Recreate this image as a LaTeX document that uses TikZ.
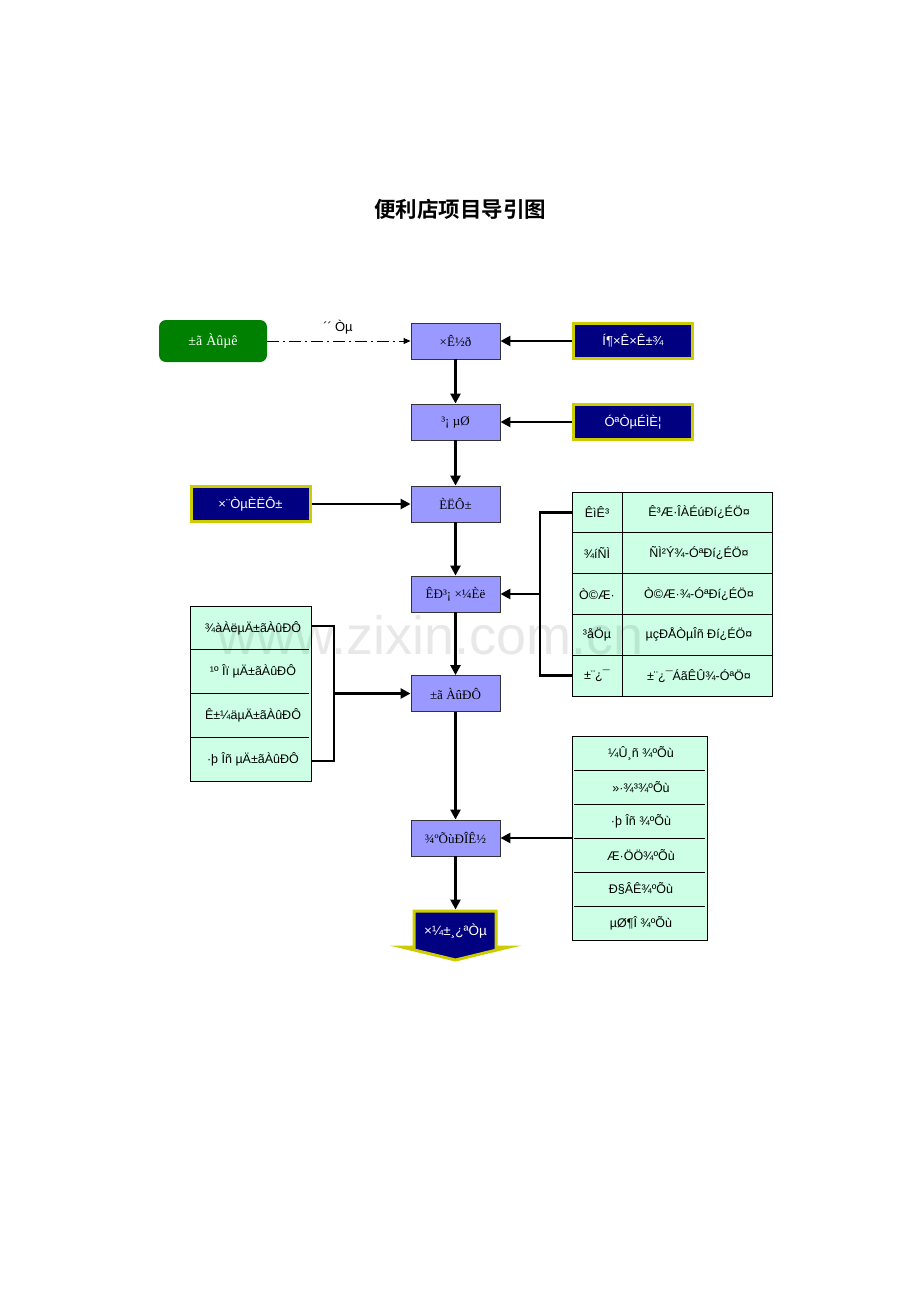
\documentclass[tikz,border=0pt]{standalone}
\usepackage{fontspec}
\setmainfont{Liberation Serif}
\newfontfamily\arialf{Liberation Sans}
\newfontfamily\cjk{Noto Sans CJK SC}[BoldFont={Noto Sans CJK SC Bold}]
\usetikzlibrary{arrows.meta}
\definecolor{boxblue}{HTML}{9999FF}
\definecolor{navyc}{HTML}{000080}
\definecolor{yel}{HTML}{CCCC00}
\definecolor{mint}{HTML}{CCFFE6}
\definecolor{greenc}{HTML}{008000}
\definecolor{edgec}{HTML}{333333}
\tikzset{
  bluebox/.style={draw=edgec, line width=0.9pt, fill=boxblue, minimum width=89pt, minimum height=36pt, inner sep=0pt, font=\fontsize{13}{15}\selectfont},
  navybox/.style={draw=yel, line width=3pt, fill=navyc, text=white, minimum width=119pt, minimum height=35pt, inner sep=0pt, font=\arialf\fontsize{13}{15}\selectfont},
  greenbox/.style={fill=greenc, rounded corners=7pt, text=white, minimum width=108pt, minimum height=42pt, inner sep=0pt, font=\fontsize{14}{16}\selectfont},
  cell/.style={inner sep=0pt, font=\arialf\fontsize{12.5}{15}\selectfont},
  conn/.style={line width=2.8pt, -{Triangle[length=10pt,width=10pt]}},
  plain/.style={line width=2.8pt},
  tframe/.style={draw=black, line width=0.8pt, fill=mint},
  tline/.style={draw=black, line width=0.8pt},
}
\begin{document}
\begin{tikzpicture}[x=1pt,y=-1pt]
\useasboundingbox[fill=white] (0,0) rectangle (920,1302);

% title
\node[font=\cjk\bfseries\fontsize{21.5}{24}\selectfont] (title) at (460,209) {便利店项目导引图};

% main column
\node[bluebox] (zj) at (455.5,341) {×Ê½ð};
\node[bluebox] (cd) at (455.5,422) {³¡ µØ};
\node[bluebox] (ry) at (455.5,504) {ÈËÔ±};
\node[bluebox] (sc) at (455.5,594) {ÊÐ³¡ ×¼Èë};
\node[bluebox] (bl) at (455.5,693.5) {±ã ÀûÐÔ};
\node[bluebox] (jz) at (455.5,838) {¾ºÕùÐÎÊ½};

% final arrow shape
\draw[draw=yel, line width=3pt, fill=navyc, line join=miter]
  (414,911) -- (496,911) -- (496,947) -- (509,947) -- (455.5,960) -- (402,947) -- (414,947) -- cycle;
\node[text=white, font=\arialf\fontsize{13.5}{15}\selectfont, inner sep=0pt] (ky) at (455.5,931) {×¼±¸¿ªÒµ};

% side boxes
\node[greenbox] (bld) at (213,341) {±ã\hspace{4pt}Àûµê};
\node[navybox] (tz) at (633,341) {Í¶×Ê×Ê±¾};
\node[navybox] (yy) at (633,422) {ÓªÒµÉÌÈ¦};
\node[navybox] (zy) at (250.5,504) {×¨ÒµÈËÔ±};

% vertical arrows
\draw[conn] (zj) -- (cd);
\draw[conn] (cd) -- (ry);
\draw[conn] (ry) -- (sc);
\draw[conn] (sc) -- (bl);
\draw[conn] (bl) -- (jz);
\coordinate (kytop) at (455.5,909.5);
\draw[conn] (jz) -- (kytop);

% horizontal arrows
\draw[line width=0.9pt, dash pattern=on 12pt off 4pt on 2pt off 4pt, -{Triangle[length=7pt,width=6pt]}] (bld) -- (zj);
\node[font=\arialf\fontsize{13}{15}\selectfont, inner sep=0pt] (cy) at (338,327) {´´\hspace{3pt}Òµ};
\draw[conn] (tz) -- (zj);
\draw[conn] (yy) -- (cd);
\draw[conn] (zy) -- (ry);

% right table 1
\draw[tframe] (572,492) rectangle (772,696);
\foreach \y in {532.8,573.6,614.4,655.2} \draw[tline] (572,\y) -- (772,\y);
\draw[tline] (622,492) -- (622,696);
\node[cell] (a1) at (597,512.4) {ÊìÊ³};
\node[cell] (a2) at (597,553.2) {¾íÑÌ};
\node[cell] (a3) at (597,594) {Ò©Æ·};
\node[cell] (a4) at (597,634.8) {³åÖµ};
\node[cell] (a5) at (597,675.6) {±¨¿¯};
\node[cell] (b1) at (699,512.4) {Ê³Æ·ÎÀÉúÐí¿ÉÖ¤};
\node[cell] (b2) at (699,553.2) {ÑÌ²Ý¾-ÓªÐí¿ÉÖ¤};
\node[cell] (b3) at (699,594) {Ò©Æ·¾-ÓªÐí¿ÉÖ¤};
\node[cell] (b4) at (699,634.8) {µçÐÅÒµÎñ Ðí¿ÉÖ¤};
\node[cell] (b5) at (699,675.6) {±¨¿¯ÁãÊÛ¾-ÓªÖ¤};
\coordinate (t1r1) at (572,512.4);
\coordinate (t1r5) at (572,675.6);
\coordinate (br1) at (540,594);
\draw[plain, line join=miter] (t1r1) -- (t1r1 -| br1) -- (t1r5 -| br1) -- (t1r5);
\draw[conn] (br1) -- (sc);

% left table 2
\draw[tframe] (190,606) rectangle (311,781);
\foreach \y in {649.75,693.5,737.25} \draw[tline] (190,\y) -- (309,\y);
\node[cell] (c1) at (253,627.9) {¾àÀëµÄ±ãÀûÐÔ};
\node[cell] (c2) at (253,671.6) {¹º Îï µÄ±ãÀûÐÔ};
\node[cell] (c3) at (253,715.4) {Ê±¼äµÄ±ãÀûÐÔ};
\node[cell] (c4) at (253,759.1) {·þ Îñ µÄ±ãÀûÐÔ};
\coordinate (t2r1) at (311,626);
\coordinate (t2r4) at (311,761);
\coordinate (br2) at (334,693.5);
\draw[plain, line join=miter] (t2r1) -- (t2r1 -| br2) -- (t2r4 -| br2) -- (t2r4);
\draw[conn] (br2) -- (bl);

% right table 3
\draw[tframe] (572,736) rectangle (707,940);
\foreach \y in {770,804,838,872,906} \draw[tline] (574,\y) -- (705,\y);
\node[cell] (d1) at (641,753) {¼Û¸ñ ¾ºÕù};
\node[cell] (d2) at (641,787) {»·¾³¾ºÕù};
\node[cell] (d3) at (641,821) {·þ Îñ ¾ºÕù};
\node[cell] (d4) at (641,855) {Æ·ÖÖ¾ºÕù};
\node[cell] (d5) at (641,889) {Ð§ÂÊ¾ºÕù};
\node[cell] (d6) at (641,923) {µØ¶Î ¾ºÕù};
\coordinate (t3l) at (572,838);
\draw[conn] (t3l) -- (jz);

% watermark
\node[text=black, opacity=0.09, font=\arialf\fontsize{54}{60}\selectfont, inner sep=0pt] (wm) at (431,635) {www.zixin.com.cn};
\end{tikzpicture}
\end{document}
